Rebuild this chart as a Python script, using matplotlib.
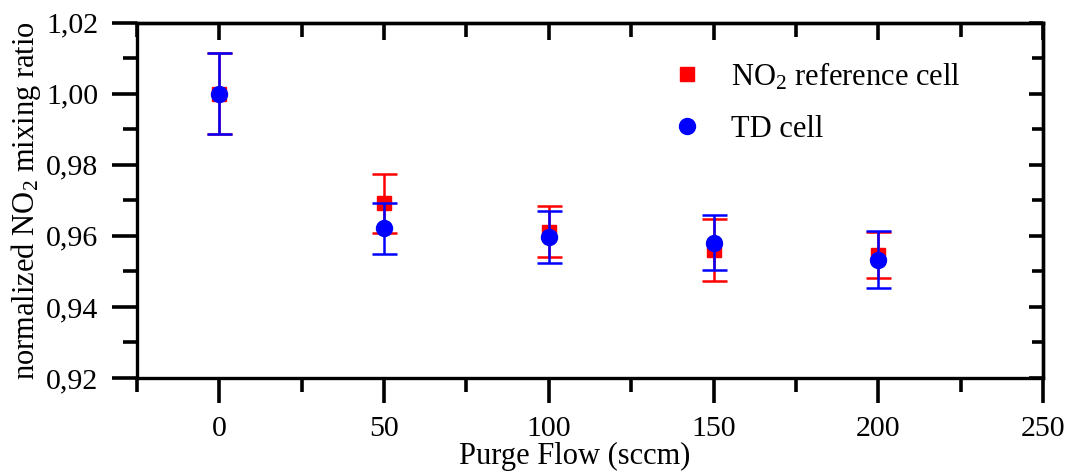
import matplotlib
matplotlib.use("Agg")
import matplotlib.pyplot as plt
from matplotlib.lines import Line2D
from matplotlib.ticker import MultipleLocator, FuncFormatter

plt.rcParams['font.family'] = ['Liberation Serif', 'DejaVu Serif']
plt.rcParams['mathtext.fontset'] = 'custom'
plt.rcParams['mathtext.rm'] = 'Liberation Serif'
plt.rcParams['mathtext.it'] = 'Liberation Serif:italic'

# Data
purge_flow = [0, 50, 100, 150, 200]
ref_values = [1.000, 0.9691, 0.9612, 0.9560, 0.9546]
ref_errors = [0.0113, 0.0083, 0.0073, 0.0088, 0.0066]
td_values = [1.000, 0.9621, 0.9597, 0.9581, 0.9533]
td_errors = [0.0113, 0.0072, 0.0073, 0.0077, 0.0081]

ref_label = r'NO$_\mathrm{2}$ reference cell'
td_label = 'TD cell'
xlabel = 'Purge Flow (sccm)'
ylabel = r'normalized NO$_\mathrm{2}$ mixing ratio'

fig = plt.figure(figsize=(10.75, 4.75), dpi=100)
ax = fig.add_axes([0.1274, 0.2042, 0.8428, 0.7484])

ax.errorbar(purge_flow, ref_values, yerr=ref_errors, fmt='s', color='#ff0000',
            ecolor='#ff0000', markersize=10, capsize=9, elinewidth=1.8,
            capthick=1.8, zorder=3)
ax.errorbar(purge_flow, td_values, yerr=td_errors, fmt='o', color='#0000ff',
            ecolor='#0000ff', markersize=11.5, capsize=9, elinewidth=1.8,
            capthick=1.8, zorder=4)

ax.set_xlim(-25, 250)
ax.set_ylim(0.92, 1.02)
ax.xaxis.set_major_locator(MultipleLocator(50))
ax.xaxis.set_minor_locator(MultipleLocator(25))
ax.yaxis.set_major_locator(MultipleLocator(0.02))
ax.yaxis.set_minor_locator(MultipleLocator(0.01))
ax.yaxis.set_major_formatter(FuncFormatter(lambda v, p: f'{v:.2f}'.replace('.', ',')))

for s in ax.spines.values():
    s.set_linewidth(2.4)

ax.tick_params(axis='both', which='both', direction='out', width=2.6,
               labelsize=21.5, top=False, right=False)
ax.tick_params(axis='both', which='major', length=18)
ax.tick_params(axis='both', which='minor', length=10)
ax.tick_params(axis='x', which='major', pad=9)
ax.tick_params(axis='y', which='major', pad=10)

# inward ticks on top/right
sec_x = ax.secondary_xaxis('top')
sec_x.xaxis.set_major_locator(MultipleLocator(50))
sec_x.xaxis.set_minor_locator(MultipleLocator(25))
sec_x.tick_params(axis='x', which='both', direction='in', width=2.6, labeltop=False)
sec_x.tick_params(axis='x', which='major', length=12)
sec_x.tick_params(axis='x', which='minor', length=10)
sec_x.spines['top'].set_linewidth(2.4)
sec_y = ax.secondary_yaxis('right')
sec_y.yaxis.set_major_locator(MultipleLocator(0.02))
sec_y.yaxis.set_minor_locator(MultipleLocator(0.01))
sec_y.tick_params(axis='y', which='both', direction='in', width=2.6, labelright=False)
sec_y.tick_params(axis='y', which='major', length=10)
sec_y.tick_params(axis='y', which='minor', length=8)
sec_y.spines['right'].set_linewidth(2.4)

ax.set_xlabel(xlabel, fontsize=22, labelpad=0)
ax.xaxis.label.set_x(0.483)
ax.set_ylabel(ylabel, fontsize=22, labelpad=2)

handles = [Line2D([], [], linestyle='none', marker='s', color='#ff0000', markersize=10),
           Line2D([], [], linestyle='none', marker='o', color='#0000ff', markersize=11.5)]
ax.legend(handles, [ref_label, td_label], loc='upper left', bbox_to_anchor=(0.552, 0.97),
          frameon=False, fontsize=22, labelspacing=0.75, handletextpad=0.67,
          handlelength=1.5)

fig.savefig('out.png', dpi=100)
